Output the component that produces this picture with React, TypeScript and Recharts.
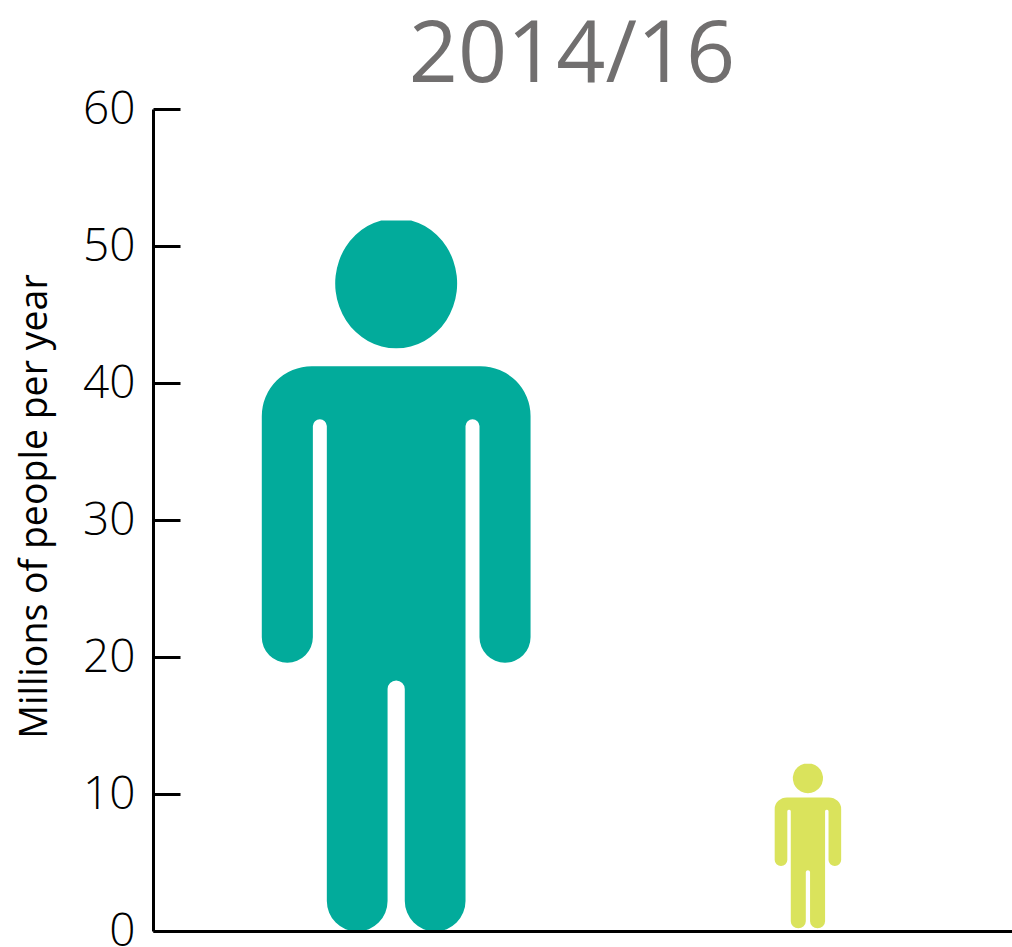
import { Bar, BarChart, Cell, XAxis, YAxis } from "recharts";

const categories = ["Group A", "Group B"];
const lowValues = [0, 0.24];
const highValues = [51.9, 12.25];
const yTicks = [0, 10, 20, 30, 40, 50, 60];

const TEAL = "#02ab9b";
const LIME = "#dae35c";
const FONT = "'Open Sans', 'Noto Sans', sans-serif";

const chartData = categories.map((name, i) => ({
  name,
  range: [lowValues[i], highValues[i]],
}));

// body proportions, as fractions of the figure's width (u) and height (v)
function personPath(cx: number, top: number, w: number, h: number) {
  const X = (u: number) => (cx + u * w).toFixed(2);
  const Y = (v: number) => (top + v * h).toFixed(2);
  const arc = (rx: number, ry: number, sweep: number, u: number, v: number) =>
    `A${(rx * w).toFixed(2)} ${(ry * h).toFixed(2)} 0 0 ${sweep} ${X(u)} ${Y(v)}`;
  const L = (u: number, v: number) => `L${X(u)} ${Y(v)}`;

  const headRx = 0.2268;
  const headRy = 0.0913;
  const headCy = 0.0885;
  const flat = headRx * Math.sqrt(1 - (headCy / headRy) ** 2);
  const head =
    `M${X(-flat)} ${Y(0)}` +
    `A${(headRx * w).toFixed(2)} ${(headRy * h).toFixed(2)} 0 1 0 ${X(flat)} ${Y(0)}Z`;

  const body = [
    `M${X(-0.314)} ${Y(0.205)}`,
    L(0.314, 0.205),
    arc(0.186, 0.0702, 1, 0.5, 0.2752),
    L(0.5, 0.586),
    arc(0.095, 0.036, 1, 0.31, 0.586),
    L(0.31, 0.289),
    arc(0.026, 0.0098, 0, 0.258, 0.289),
    L(0.258, 0.957),
    arc(0.113, 0.043, 1, 0.032, 0.957),
    L(0.032, 0.659),
    arc(0.032, 0.012, 0, -0.032, 0.659),
    L(-0.032, 0.957),
    arc(0.113, 0.043, 1, -0.258, 0.957),
    L(-0.258, 0.289),
    arc(0.026, 0.0098, 0, -0.31, 0.289),
    L(-0.31, 0.586),
    arc(0.095, 0.036, 1, -0.5, 0.586),
    L(-0.5, 0.2752),
    arc(0.186, 0.0702, 1, -0.314, 0.205),
    "Z",
  ].join("");

  return head + body;
}

function PersonShape(props: any) {
  const { x, y, width, height, fill, index } = props;
  const aspect = index === 0 ? 0.378 : 0.404;
  return (
    <path
      d={personPath(x + width / 2, y, height * aspect, height)}
      fill={fill}
    />
  );
}

export default function App() {
  return (
    <div
      style={{
        position: "absolute",
        left: 0,
        top: 0,
        width: 1012,
        height: 947,
        overflow: "hidden",
        background: "#fff",
      }}
    >
      <div
        style={{
          position: "absolute",
          left: 322,
          width: 500,
          top: 0,
          textAlign: "center",
          fontFamily: FONT,
          fontSize: 86,
          lineHeight: "98px",
          color: "#716f6f",
        }}
      >
        2014/16
      </div>
      <BarChart
        width={1012}
        height={947}
        data={chartData}
        margin={{ top: 109.5, right: 0, bottom: 14.5, left: 0 }}
      >
        <XAxis
          dataKey="name"
          tick={false}
          tickLine={false}
          height={1}
          padding={{ left: 37, right: -2 }}
          axisLine={{ stroke: "#000", strokeWidth: 3 }}
        />
        <YAxis
          domain={[0, 60]}
          ticks={yTicks}
          width={153.5}
          interval={0}
          tickSize={-27}
          tickMargin={45}
          tick={{ fontSize: 46, fontWeight: 300, fill: "#000", fontFamily: FONT, dy: -2 }}
          tickLine={{ stroke: "#000", strokeWidth: 3 }}
          axisLine={{ stroke: "#000", strokeWidth: 3 }}
          label={{
            value: "Millions of people per year",
            angle: -90,
            position: "insideLeft",
            dx: 29,
            dy: -14,
            fontSize: 37.5,
            fill: "#000",
            fontFamily: FONT,
            style: { textAnchor: "middle" },
          }}
        />
        <Bar
          dataKey="range"
          isAnimationActive={false}
          shape={PersonShape}
        >
          <Cell fill={TEAL} />
          <Cell fill={LIME} />
        </Bar>
      </BarChart>
    </div>
  );
}
